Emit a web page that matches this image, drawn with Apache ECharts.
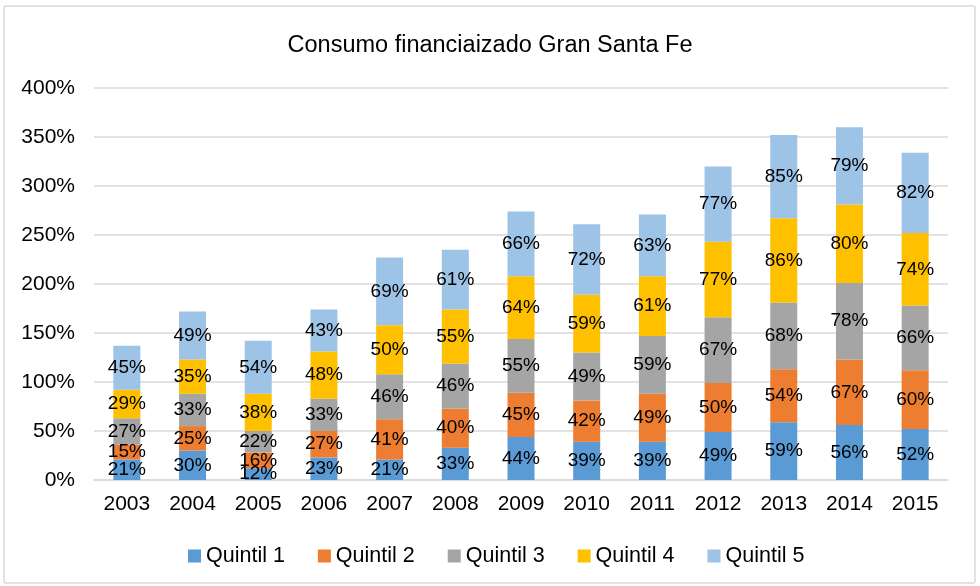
<!DOCTYPE html>
<html>
<head>
<meta charset="utf-8">
<script src="https://cdn.jsdelivr.net/npm/echarts@6/dist/echarts.min.js"></script>
<style>
html, body { margin: 0; padding: 0; background: #fff; }
#chart { width: 980px; height: 586px; }
</style>
</head>
<body>
<div id="chart"></div>
<script>
var years = ['2003','2004','2005','2006','2007','2008','2009','2010','2011','2012','2013','2014','2015'];
var quintil1 = [21, 30, 12, 23, 21, 33, 44, 39, 39, 49, 59, 56, 52];
var quintil2 = [15, 25, 16, 27, 41, 40, 45, 42, 49, 50, 54, 67, 60];
var quintil3 = [27, 33, 22, 33, 46, 46, 55, 49, 59, 67, 68, 78, 66];
var quintil4 = [29, 35, 38, 48, 50, 55, 64, 59, 61, 77, 86, 80, 74];
var quintil5 = [45, 49, 54, 43, 69, 61, 66, 72, 63, 77, 85, 79, 82];

var names = ['Quintil 1','Quintil 2','Quintil 3','Quintil 4','Quintil 5'];
var colors = ['#5B9BD5','#ED7D31','#A5A5A5','#FFC000','#9DC3E6'];
var values = [quintil1, quintil2, quintil3, quintil4, quintil5];

var font = 'Liberation Sans';

var series = values.map(function(v, i) {
    return {
        name: names[i],
        type: 'bar',
        stack: 'total',
        barWidth: 27,
        data: v,
        itemStyle: { color: colors[i] },
        label: {
            show: true,
            position: 'inside',
            formatter: '{c}%',
            color: '#000',
            fontFamily: font,
            fontSize: 19
        }
    };
});

var chart = echarts.init(document.getElementById('chart'));
chart.setOption({
    animation: false,
    color: colors,
    title: {
        text: 'Consumo financiaizado Gran Santa Fe',
        left: 'center',
        top: 29,
        textStyle: { fontFamily: font, fontSize: 23.5, fontWeight: 'normal', color: '#000' }
    },
    graphic: [{
        type: 'rect',
        shape: { x: 4, y: 6, width: 971, height: 577, r: 2 },
        style: { fill: 'none', stroke: '#D9D9D9', lineWidth: 1.5 },
        silent: true
    }],
    legend: {
        data: names,
        top: 540,
        left: 183,
        itemWidth: 13,
        itemHeight: 13,
        itemGap: 33,
        icon: 'rect',
        textStyle: { fontFamily: font, fontSize: 21.5, color: '#000' }
    },
    grid: { left: 94, right: 32, top: 88, bottom: 106 },
    xAxis: {
        type: 'category',
        data: years,
        axisLine: { lineStyle: { color: '#D9D9D9', width: 1.5 } },
        axisTick: { show: false },
        axisLabel: { fontFamily: font, fontSize: 21, color: '#000', margin: 14 }
    },
    yAxis: {
        type: 'value',
        min: 0,
        max: 400,
        interval: 50,
        axisLine: { show: false },
        axisTick: { show: false },
        splitLine: { lineStyle: { color: '#D9D9D9', width: 1.5 } },
        axisLabel: { fontFamily: font, fontSize: 21, color: '#000', margin: 19, formatter: '{value}%' }
    },
    series: series
});
</script>
</body>
</html>
